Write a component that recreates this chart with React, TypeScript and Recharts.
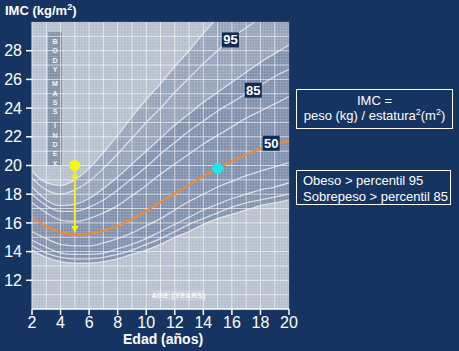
import React from 'react';
import {
  ComposedChart,
  Line,
  Area,
  XAxis,
  YAxis,
  ReferenceLine,
  ReferenceArea,
  ReferenceDot,
} from 'recharts';

// edad (años)
const ages = [2, 3, 4, 5, 6, 7, 8, 9, 10, 11, 12, 13, 14, 15, 16, 17, 18, 19, 20];

// percentiles de IMC (kg/m2)
const p3 = [14.1, 13.6, 13.3, 13.2, 13.2, 13.3, 13.5, 13.8, 14.1, 14.5, 15.0, 15.4, 15.9, 16.3, 16.6, 16.9, 17.2, 17.4, 17.6];
const p5 = [14.4, 13.9, 13.6, 13.5, 13.5, 13.6, 13.8, 14.1, 14.5, 14.9, 15.4, 15.9, 16.3, 16.7, 17.1, 17.4, 17.6, 17.8, 18.0];
const p10 = [14.8, 14.3, 13.9, 13.8, 13.8, 13.9, 14.2, 14.5, 14.9, 15.4, 15.9, 16.4, 16.9, 17.3, 17.7, 18.0, 18.3, 18.5, 18.8];
const p25 = [15.4, 14.9, 14.5, 14.4, 14.4, 14.6, 14.9, 15.3, 15.8, 16.3, 16.9, 17.5, 18.0, 18.5, 18.9, 19.3, 19.6, 19.9, 20.2];
const p50 = [16.4, 15.75, 15.35, 15.2, 15.25, 15.45, 15.8, 16.25, 16.85, 17.45, 18.05, 18.65, 19.25, 19.8, 20.3, 20.75, 21.15, 21.45, 21.7];
const p75 = [17.4, 16.7, 16.2, 16.1, 16.3, 16.7, 17.2, 17.9, 18.6, 19.4, 20.1, 20.8, 21.5, 22.1, 22.7, 23.3, 23.8, 24.3, 24.8];
const p85 = [18.0, 17.2, 16.8, 16.8, 17.1, 17.6, 18.3, 19.1, 19.9, 20.8, 21.6, 22.4, 23.1, 23.8, 24.4, 25.0, 25.6, 26.2, 26.7];
const p90 = [18.5, 17.6, 17.2, 17.3, 17.7, 18.4, 19.2, 20.1, 21.0, 21.9, 22.8, 23.6, 24.4, 25.1, 25.8, 26.5, 27.2, 27.8, 28.4];
const p95 = [19.1, 18.3, 18.0, 18.3, 18.9, 19.8, 20.8, 21.9, 23.0, 24.0, 25.1, 26.1, 27.1, 28.0, 28.9, 29.6, 30.3, 31.0, 31.8];
const p97 = [19.6, 18.8, 18.6, 19.0, 19.8, 20.9, 22.1, 23.4, 24.6, 25.7, 26.9, 28.0, 29.2, 30.3, 31.3, 32.2, 33.1, 34.0, 35.0];

const xTicks = [2, 4, 6, 8, 10, 12, 14, 16, 18, 20];
const yTicks = [12, 14, 16, 18, 20, 22, 24, 26, 28];

// ejemplo: niña de 5 años con IMC 20, y de 15 años con IMC 19.8
const girlAge = 5;
const girlImc = 20;
const arrowFrom = 19.6;
const arrowTo = 15.3;
const teenAge = 15;
const teenImc = 19.8;

const tagLabels = ['95', '85', '50'];
const tagAges = [15.9, 17.5, 18.75];
const tagImc = [28.75, 25.25, 21.55];

const rows = ages.map((age, i) => ({
  age,
  p3: p3[i], p5: p5[i], p10: p10[i], p25: p25[i], p50: p50[i],
  p75: p75[i], p85: p85[i], p90: p90[i], p95: p95[i], p97: p97[i],
}));

const thinKeys = ['p3', 'p5', 'p10', 'p25', 'p75', 'p85', 'p90', 'p95', 'p97'];

// rejilla del papel de fondo
const fineX: number[] = [];
for (let v = 2; v <= 20.001; v += 0.2) fineX.push(Math.round(v * 10) / 10);
const fineY: number[] = [];
for (let v = 10; v <= 30.001; v += 0.2) fineY.push(Math.round(v * 10) / 10);
const majorX = ages.slice(1, -1);
const majorY: number[] = [];
for (let v = 11; v < 30; v++) majorY.push(v);

const NAVY = '#163462';

const bmiStripe = (props: any) => {
  const { x, y, width, height } = props;
  const words = ['BODY', 'MASS', 'INDEX'];
  const letters: React.ReactNode[] = [];
  let cy = y + 12;
  words.forEach((w, wi) => {
    w.split('').forEach((ch, ci) => {
      letters.push(
        <text key={`${wi}-${ci}`} x={x + width / 2} y={cy} textAnchor="middle" fill="#eef1f6" fontSize={7} fontWeight="bold" fontFamily="Liberation Sans, Arial, sans-serif">{ch}</text>
      );
      cy += 9.3;
    });
    cy += 5;
  });
  return (
    <g>
      <rect x={x} y={y} width={width} height={height} fill="#7d8ba2" />
      {letters}
    </g>
  );
};

const ageBox = (props: any) => {
  const { x, y, width, height } = props;
  return (
    <g>
      <rect x={x} y={y} width={width} height={height} fill="#c3cad6" />
      <text x={x + width / 2} y={y + height / 2 + 2.5} textAnchor="middle" fill="#f4f6fa" fontSize={7} fontWeight="bold" letterSpacing={0.8} fontFamily="Liberation Sans, Arial, sans-serif">AGE (YEARS)</text>
    </g>
  );
};

const arrowShape = (props: any) => {
  const { x1, y1, x2, y2 } = props;
  const top = Math.min(y1, y2);
  const bot = Math.max(y1, y2);
  const c = '#f2f21e';
  return (
    <g>
      <line x1={x1} y1={top + 5} x2={x1} y2={bot - 5} stroke={c} strokeWidth={2} />
      <polygon points={`${x1},${top} ${x1 - 3.5},${top + 7} ${x1 + 3.5},${top + 7}`} fill={c} />
      <polygon points={`${x1},${bot} ${x1 - 3.5},${bot - 7} ${x1 + 3.5},${bot - 7}`} fill={c} />
    </g>
  );
};

const tagShape = (label: string) => (props: any) => {
  const { cx, cy } = props;
  return (
    <g>
      <rect x={cx - 8.5} y={cy - 7.5} width={17} height={15} fill="#102b57" />
      <text x={cx} y={cy + 4.5} textAnchor="middle" fill="#ffffff" fontSize={13} fontWeight="bold" fontFamily="Liberation Sans, Arial, sans-serif">{label}</text>
    </g>
  );
};

const txt: React.CSSProperties = {
  position: 'absolute',
  color: '#ffffff',
  fontFamily: '"Liberation Sans", Arial, sans-serif',
  whiteSpace: 'nowrap',
};

export default function App() {
  return (
    <div style={{ position: 'absolute', left: 0, top: 0, width: 459, height: 351, background: NAVY, overflow: 'hidden' }}>
      <ComposedChart
        width={459}
        height={351}
        data={rows}
        margin={{ top: 22, right: 170, bottom: 0, left: 0 }}
      >
        <XAxis
          dataKey="age"
          type="number"
          domain={[2, 20]}
          ticks={xTicks}
          interval={0}
          allowDataOverflow
          height={42}
          tickSize={6}
          tickMargin={2}
          axisLine={{ stroke: '#ffffff', strokeWidth: 1.5 }}
          tickLine={{ stroke: '#ffffff', strokeWidth: 1.5 }}
          tick={{ fill: '#ffffff', fontSize: 16, fontFamily: 'Liberation Sans, Arial, sans-serif' }}
        />
        <YAxis
          type="number"
          domain={[10, 30]}
          ticks={yTicks}
          interval={0}
          allowDataOverflow
          width={32}
          tickSize={6}
          tickMargin={4}
          axisLine={{ stroke: '#dfe5ee', strokeWidth: 1 }}
          tickLine={{ stroke: '#ffffff', strokeWidth: 1.5 }}
          tick={{ fill: '#ffffff', fontSize: 16, fontFamily: 'Liberation Sans, Arial, sans-serif' }}
        />

        <ReferenceArea x1={2} x2={20} y1={10} y2={30} fill="#b4becd" fillOpacity={1} stroke="none" />

        <Area type="monotone" dataKey={(d: any) => [d.p3, d.p97]} fill="#3c5282" fillOpacity={0.28} stroke="none" isAnimationActive={false} />
        <Area type="monotone" dataKey={(d: any) => [d.p3, d.p90]} fill="#2f4677" fillOpacity={0.22} stroke="none" isAnimationActive={false} />

        {fineX.map((v) => (
          <ReferenceLine key={`fx${v}`} x={v} stroke="#ffffff" strokeOpacity={0.22} strokeWidth={0.7} />
        ))}
        {fineY.map((v) => (
          <ReferenceLine key={`fy${v}`} y={v} stroke="#ffffff" strokeOpacity={0.22} strokeWidth={0.7} />
        ))}
        {majorX.map((v) => (
          <ReferenceLine key={`mx${v}`} x={v} stroke="#ffffff" strokeOpacity={0.6} strokeWidth={1} />
        ))}
        {majorY.map((v) => (
          <ReferenceLine key={`my${v}`} y={v} stroke="#ffffff" strokeOpacity={0.6} strokeWidth={1} />
        ))}

        <ReferenceArea x1={3.12} x2={4.1} y1={20.0} y2={29.3} shape={bmiStripe} />
        <ReferenceArea x1={10.47} x2={14.1} y1={10.6} y2={11.3} shape={ageBox} />

        {thinKeys.map((k) => (
          <Line
            key={k}
            type="monotone"
            dataKey={k}
            stroke="#f1f4f9"
            strokeOpacity={0.75}
            strokeWidth={1.3}
            dot={false}
            activeDot={false}
            isAnimationActive={false}
          />
        ))}
        <Line
          type="monotone"
          dataKey="p50"
          stroke="#ea8b3e"
          strokeWidth={2.3}
          dot={false}
          activeDot={false}
          isAnimationActive={false}
        />

        {tagLabels.map((t, i) => (
          <ReferenceDot key={t} x={tagAges[i]} y={tagImc[i]} r={8} shape={tagShape(t)} />
        ))}

        <ReferenceLine
          segment={[{ x: girlAge, y: arrowFrom }, { x: girlAge, y: arrowTo }]}
          shape={arrowShape}
        />
        <ReferenceDot x={girlAge} y={girlImc} r={5.5} fill="#f5f51c" stroke="none" />
        <ReferenceDot x={teenAge} y={teenImc} r={5.5} fill="#1fe3ef" stroke="none" />
      </ComposedChart>

      <div style={{ ...txt, left: 5, top: 2, fontSize: 13, fontWeight: 'bold' }}>
        IMC (kg/m<sup style={{ fontSize: 9 }}>2</sup>)
      </div>
      <div style={{ ...txt, left: 123, top: 331, fontSize: 14, fontWeight: 'bold' }}>Edad (años)</div>

      <div style={{ ...txt, left: 296, top: 89, width: 155, height: 35, border: '1px solid #ffffff', fontSize: 13, textAlign: 'center', lineHeight: '15px', paddingTop: 3, boxSizing: 'content-box' }}>
        <div>IMC =</div>
        <div>peso (kg) / estatura<sup style={{ fontSize: 9, lineHeight: 0 }}>2</sup>(m<sup style={{ fontSize: 9, lineHeight: 0 }}>2</sup>)</div>
      </div>

      <div style={{ ...txt, left: 296, top: 170, width: 155, height: 35, border: '1px solid #ffffff', fontSize: 13, lineHeight: '16px', paddingTop: 2, paddingLeft: 6, boxSizing: 'border-box' }}>
        <div>Obeso &gt; percentil 95</div>
        <div>Sobrepeso &gt; percentil 85</div>
      </div>
    </div>
  );
}
